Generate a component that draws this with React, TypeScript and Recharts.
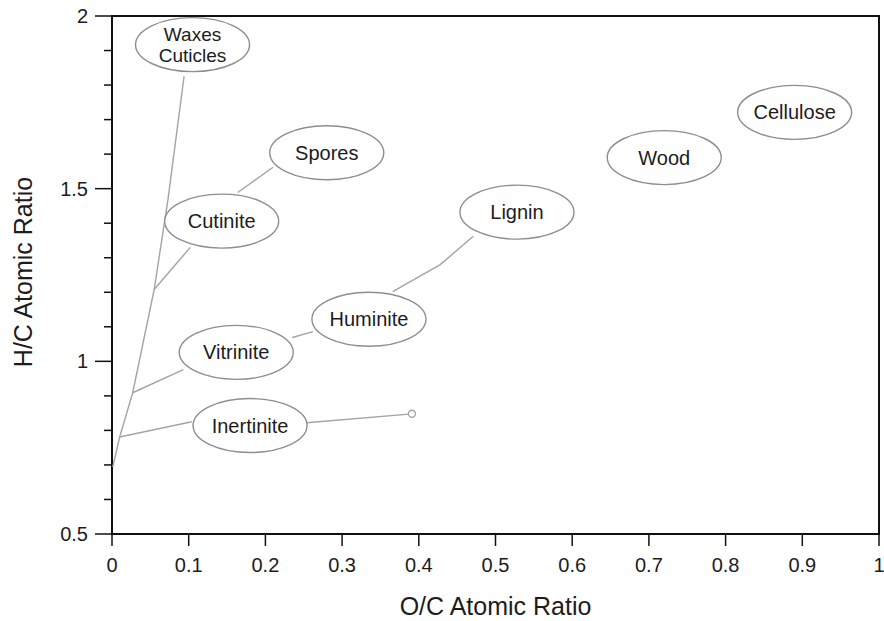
import { ScatterChart, Scatter, XAxis, YAxis, ReferenceArea, Label } from 'recharts'

const FONT = '"Liberation Sans", Arial, Helvetica, sans-serif'

// ellipse labels and centres (O/C, H/C)
const groupNames = ['Waxes\nCuticles', 'Spores', 'Cutinite', 'Lignin', 'Wood', 'Cellulose', 'Huminite', 'Vitrinite', 'Inertinite']
const groupOC = [0.105, 0.280, 0.143, 0.528, 0.720, 0.890, 0.335, 0.162, 0.180]
const groupHC = [1.917, 1.604, 1.406, 1.432, 1.590, 1.721, 1.122, 1.026, 0.814]

// connecting paths
const trunkOC = [0.001, 0.010, 0.027, 0.055, 0.073, 0.094]
const trunkHC = [0.694, 0.781, 0.909, 1.208, 1.469, 1.826]
const cutiniteOC = [0.055, 0.102]
const cutiniteHC = [1.208, 1.330]
const sporesOC = [0.164, 0.210]
const sporesHC = [1.489, 1.562]
const vitriniteOC = [0.027, 0.093]
const vitriniteHC = [0.909, 0.976]
const huminiteOC = [0.235, 0.262]
const huminiteHC = [1.069, 1.086]
const ligninOC = [0.366, 0.428, 0.471]
const ligninHC = [1.202, 1.280, 1.362]
const inertiniteOC = [0.010, 0.104]
const inertiniteHC = [0.781, 0.825]
const inertTailOC = [0.254, 0.391]
const inertTailHC = [0.822, 0.848]

const xTicks = [0, 0.1, 0.2, 0.3, 0.4, 0.5, 0.6, 0.7, 0.8, 0.9, 1]
const yTicks = [0.5, 0.6, 0.7, 0.8, 0.9, 1, 1.1, 1.2, 1.3, 1.4, 1.5, 1.6, 1.7, 1.8, 1.9, 2]
const yLabelled = [0.5, 1, 1.5, 2]

const pts = (xs: number[], ys: number[]) => xs.map((x, i) => ({ x, y: ys[i] }))
const groups = groupNames.map((name, i) => ({ name, x: groupOC[i], y: groupHC[i] }))
const paths = [
  pts(trunkOC, trunkHC),
  pts(cutiniteOC, cutiniteHC),
  pts(sporesOC, sporesHC),
  pts(vitriniteOC, vitriniteHC),
  pts(huminiteOC, huminiteHC),
  pts(ligninOC, ligninHC),
  pts(inertiniteOC, inertiniteHC),
  pts(inertTailOC, inertTailHC),
]
const tail = pts(inertTailOC, inertTailHC).slice(-1)

const LINE = '#a4a4a4'
const INK = '#1c1c1c'

function Bubble(props: any) {
  const { cx, cy, payload } = props
  const lines: string[] = payload.name.split('\n')
  const multi = lines.length > 1
  const gap = 21
  return (
    <g>
      <ellipse cx={cx} cy={cy} rx={57} ry={27} fill="#fff" stroke="#8e8e8e" strokeWidth={1.4} />
      <text x={cx} y={cy} textAnchor="middle" fontFamily={FONT} fontSize={multi ? 19 : 20} fill={INK}>
        {lines.map((l, i) => (
          <tspan key={i} x={cx} y={cy + 7 + (i - (lines.length - 1) / 2) * gap}>{l}</tspan>
        ))}
      </text>
    </g>
  )
}

function TailMark(props: any) {
  const { cx, cy } = props
  return <circle cx={cx} cy={cy} r={3.5} fill="#fff" stroke={LINE} strokeWidth={1.4} />
}

function XTick(props: any) {
  const { x, y, payload } = props
  return (
    <g>
      <line x1={x} y1={y} x2={x} y2={y + 12} stroke="#111" strokeWidth={1.5} />
      <text x={x} y={y + 38} textAnchor="middle" fontFamily={FONT} fontSize={20} fill={INK}>{payload.value}</text>
    </g>
  )
}

function YTick(props: any) {
  const { x, y, payload } = props
  const major = yLabelled.includes(Math.round(payload.value * 10) / 10)
  return (
    <g>
      <line x1={x} y1={y} x2={x - (major ? 17 : 8)} y2={y} stroke="#111" strokeWidth={1.5} />
      {major && (
        <text x={x - 24} y={y + 7} textAnchor="end" fontFamily={FONT} fontSize={20} fill={INK}>{payload.value}</text>
      )}
    </g>
  )
}

export default function App() {
  return (
    <div style={{ position: 'absolute', left: 0, top: 0, background: '#fff' }}>
      <ScatterChart width={884} height={621} margin={{ top: 16, right: 5, bottom: 0, left: 0 }}>
        <XAxis
          type="number"
          dataKey="x"
          domain={[0, 1]}
          ticks={xTicks}
          interval={0}
          height={87}
          tickSize={0}
          tickMargin={0}
          tickLine={false}
          tick={<XTick />}
          axisLine={{ stroke: '#111', strokeWidth: 2 }}
        >
          <Label
            content={(p: any) => (
              <text x={p.viewBox.x + p.viewBox.width / 2} y={p.viewBox.y + 81} textAnchor="middle" fontFamily={FONT} fontSize={25} fill={INK}>
                O/C Atomic Ratio
              </text>
            )}
          />
        </XAxis>
        <YAxis
          type="number"
          dataKey="y"
          domain={[0.5, 2]}
          ticks={yTicks}
          interval={0}
          width={112}
          tickSize={0}
          tickMargin={0}
          tickLine={false}
          tick={<YTick />}
          axisLine={{ stroke: '#111', strokeWidth: 2 }}
        >
          <Label
            content={(p: any) => {
              const cy = p.viewBox.y + p.viewBox.height / 2 - 3
              return (
                <text x={32} y={cy} transform={`rotate(-90, 32, ${cy})`} textAnchor="middle" fontFamily={FONT} fontSize={25} fill={INK}>
                  H/C Atomic Ratio
                </text>
              )
            }}
          />
        </YAxis>
        <ReferenceArea x1={0} x2={1} y1={0.5} y2={2} fill="none" stroke="#111" strokeWidth={2} ifOverflow="visible" />
        {paths.map((d, i) => (
          <Scatter key={i} data={d} line={{ stroke: LINE, strokeWidth: 1.4 }} shape={() => <g />} isAnimationActive={false} />
        ))}
        <Scatter data={tail} shape={<TailMark />} isAnimationActive={false} />
        <Scatter data={groups} shape={<Bubble />} isAnimationActive={false} />
      </ScatterChart>
    </div>
  )
}
